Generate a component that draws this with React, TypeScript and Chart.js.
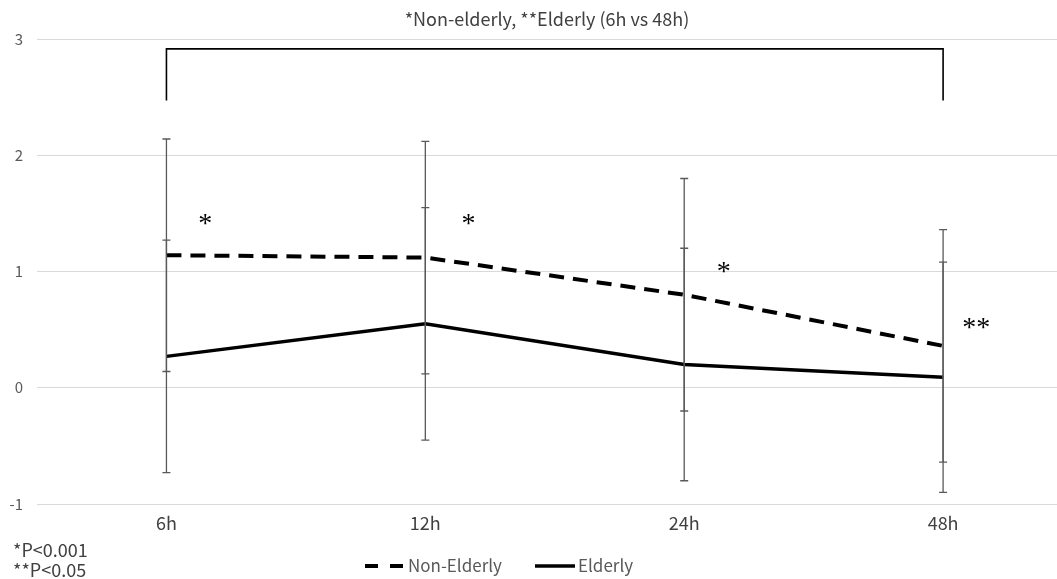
import React, { useEffect, useRef } from "react";
import { Chart, registerables } from "chart.js";

Chart.register(...registerables);

const categories = ["6h", "12h", "24h", "48h"];
const nonElderly = [1.14, 1.12, 0.8, 0.36];
const elderly = [0.27, 0.55, 0.2, 0.09];
const nonElderlyErr = [1.0, 1.0, 1.0, 1.0];
const elderlyErr = [1.0, 1.0, 1.0, 0.99];
const seriesNames = ["Non-Elderly", "Elderly"];
const yTickValues = [-1, 0, 1, 2, 3];
const titleText = "*Non-elderly, **Elderly (6h vs 48h)";
const footnotes = ["*P<0.001", "**P<0.05"];
const sigMarks = ["*", "*", "*", "**"];
const sigMarkValues = [1.45, 1.45, 1.03, 0.55];
const bracketTopValue = 2.915;
const bracketBottomValue = 2.47;

const FONT = "'Noto Sans CJK JP', 'Noto Sans', sans-serif";

const overlayPlugin = {
  id: "overlay",
  afterDatasetsDraw(chart: any) {
    const ctx = chart.ctx;
    const xs = chart.scales.x;
    const ys = chart.scales.y;
    ctx.save();

    // error bars
    const errSets = [
      { vals: nonElderly, errs: nonElderlyErr },
      { vals: elderly, errs: elderlyErr },
    ];
    ctx.strokeStyle = "#595959";
    ctx.lineWidth = 1.3;
    ctx.setLineDash([]);
    errSets.forEach(({ vals, errs }) => {
      vals.forEach((v, i) => {
        const x = xs.getPixelForValue(i);
        const yt = ys.getPixelForValue(v + errs[i]);
        const yb = ys.getPixelForValue(v - errs[i]);
        ctx.beginPath();
        ctx.moveTo(x, yt);
        ctx.lineTo(x, yb);
        ctx.moveTo(x - 4, yt);
        ctx.lineTo(x + 4, yt);
        ctx.moveTo(x - 4, yb);
        ctx.lineTo(x + 4, yb);
        ctx.stroke();
      });
    });

    // bracket
    const bx0 = xs.getPixelForValue(0);
    const bx1 = xs.getPixelForValue(categories.length - 1);
    const byT = ys.getPixelForValue(bracketTopValue);
    const byB = ys.getPixelForValue(bracketBottomValue);
    ctx.strokeStyle = "#000000";
    ctx.lineWidth = 1.6;
    ctx.beginPath();
    ctx.moveTo(bx0, byB);
    ctx.lineTo(bx0, byT);
    ctx.lineTo(bx1, byT);
    ctx.lineTo(bx1, byB);
    ctx.stroke();

    // significance marks
    const markOffsets = [0.15, 0.167, 0.153, 0.128];
    ctx.fillStyle = "#000000";
    ctx.font = "28px 'Liberation Serif', serif";
    ctx.textAlign = "center";
    ctx.textBaseline = "middle";
    sigMarks.forEach((m, i) => {
      const x = xs.getPixelForValue(i + markOffsets[i]);
      const y = ys.getPixelForValue(sigMarkValues[i]);
      ctx.fillText(m, x, y + 5);
    });

    // title
    ctx.fillStyle = "#404040";
    ctx.font = "18px " + FONT;
    ctx.textAlign = "center";
    ctx.textBaseline = "middle";
    ctx.fillText(titleText, 547, 19);

    // footnotes
    ctx.fillStyle = "#404040";
    ctx.font = "18px " + FONT;
    ctx.textAlign = "left";
    footnotes.forEach((t, i) => ctx.fillText(t, 13, 550 + i * 20));

    // legend
    ctx.font = "17px " + FONT;
    ctx.fillStyle = "#595959";
    ctx.strokeStyle = "#000000";
    ctx.lineWidth = 4;
    ctx.setLineDash([13, 12]);
    ctx.beginPath();
    ctx.moveTo(365, 566);
    ctx.lineTo(403, 566);
    ctx.stroke();
    ctx.fillText(seriesNames[0], 408, 566);
    ctx.setLineDash([]);
    ctx.lineWidth = 3.5;
    ctx.beginPath();
    ctx.moveTo(535, 566);
    ctx.lineTo(575, 566);
    ctx.stroke();
    ctx.fillText(seriesNames[1], 578, 566);

    ctx.restore();
  },
};

export default function App() {
  const ref = useRef<HTMLCanvasElement | null>(null);
  useEffect(() => {
    if (!ref.current) return;
    const chart = new Chart(ref.current, {
      type: "line",
      data: {
        datasets: [
          {
            label: seriesNames[0],
            data: nonElderly.map((v, i) => ({ x: i, y: v })),
            borderColor: "#000000",
            borderWidth: 4,
            borderDash: [15, 9],
            pointRadius: 0,
            tension: 0,
            fill: false,
          },
          {
            label: seriesNames[1],
            data: elderly.map((v, i) => ({ x: i, y: v })),
            borderColor: "#000000",
            borderWidth: 3.4,
            pointRadius: 0,
            tension: 0,
            fill: false,
          },
        ],
      },
      options: {
        animation: false,
        responsive: true,
        maintainAspectRatio: false,
        layout: { padding: { top: 39, left: 0, right: 0, bottom: 0 } },
        plugins: {
          legend: { display: false },
          tooltip: { enabled: false },
          title: { display: false },
        },
        scales: {
          x: {
            type: "linear",
            min: -0.5,
            max: 3.44,
            afterBuildTicks: (scale: any) => {
              scale.ticks = categories.map((_, i) => ({ value: i }));
            },
            afterFit: (scale: any) => {
              scale.height = 75;
            },
            grid: { display: false, drawTicks: false },
            border: { display: false },
            ticks: {
              padding: 8,
              color: "#404040",
              font: { family: FONT, size: 18 },
              callback: (v: any) => categories[v] ?? "",
              autoSkip: false,
              maxRotation: 0,
            },
          },
          y: {
            min: yTickValues[0],
            max: yTickValues[yTickValues.length - 1],
            afterBuildTicks: (scale: any) => {
              scale.ticks = yTickValues.map((v) => ({ value: v }));
            },
            afterFit: (scale: any) => {
              scale.width = 37;
            },
            grid: { color: "#d9d9d9", lineWidth: 1, drawTicks: false },
            border: { display: false },
            ticks: {
              padding: 14,
              color: "#595959",
              font: { family: FONT, size: 15 },
            },
          },
        },
      },
      plugins: [overlayPlugin],
    });
    return () => chart.destroy();
  }, []);
  return (
    <div style={{ position: "absolute", left: 0, top: 0, width: 1057, height: 579, background: "#fff" }}>
      <canvas ref={ref} />
    </div>
  );
}
